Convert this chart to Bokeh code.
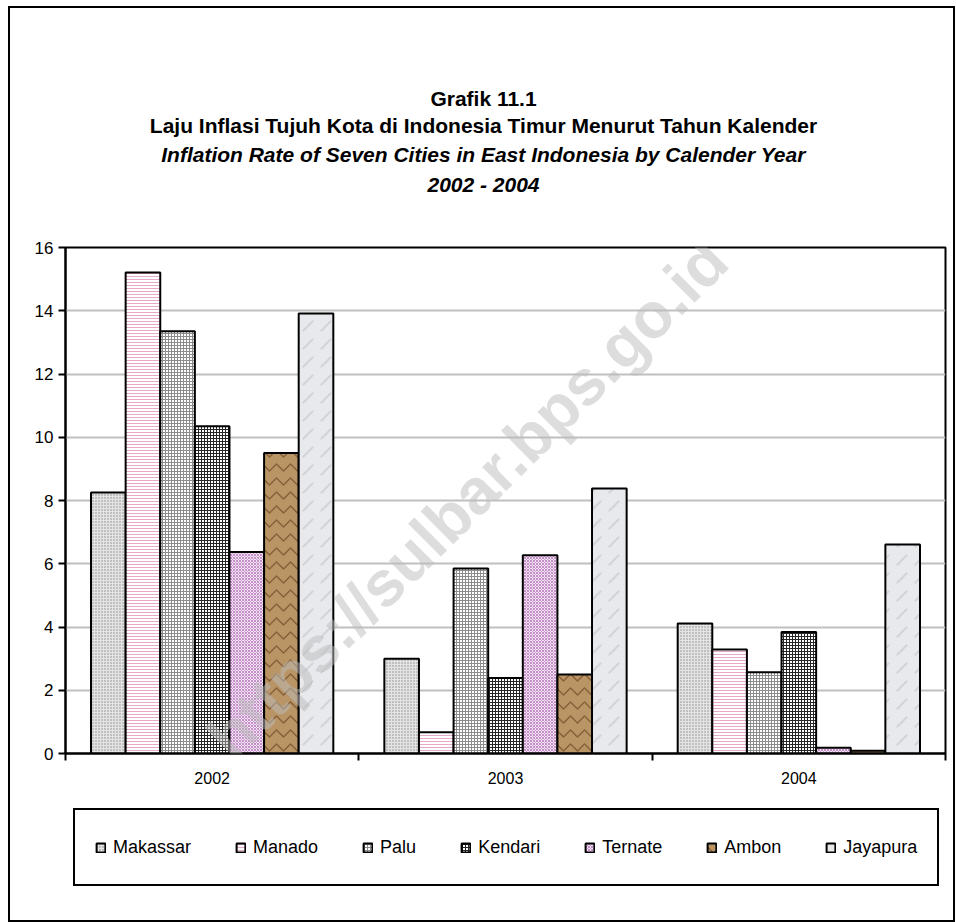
import math
from bokeh.plotting import figure
from bokeh.layouts import column
from bokeh.models import (Range1d, FixedTicker, Legend, LegendItem, Label, ColumnDataSource)
from bokeh.transform import dodge
from bokeh.embed import file_html
from bokeh.resources import INLINE

# ---------------- data ----------------
years = ["2002", "2003", "2004"]
cities = ["Makassar", "Manado", "Palu", "Kendari", "Ternate", "Ambon", "Jayapura"]
makassar = [8.25, 3.00, 4.11]
manado = [15.21, 0.67, 3.29]
palu = [13.35, 5.85, 2.57]
kendari = [10.35, 2.39, 3.84]
ternate = [6.37, 6.27, 0.18]
ambon = [9.50, 2.50, 0.09]
jayapura = [13.91, 8.38, 6.61]
y_ticks = [0, 2, 4, 6, 8, 10, 12, 14, 16]

title_lines = ["Grafik 11.1",
               "Laju Inflasi Tujuh Kota di Indonesia Timur Menurut Tahun Kalender",
               "Inflation Rate of Seven Cities in East Indonesia by Calender Year",
               "2002 - 2004"]
watermark = "https://sulbar.bps.go.id"

series = [makassar, manado, palu, kendari, ternate, ambon, jayapura]

# ---------------- styles ----------------
FONT = "Liberation Sans"
styles_ = [
    dict(fill_color="#e4e4e4", hatch_pattern="dot", hatch_color="#8a8a8a", hatch_scale=3, hatch_weight=1),
    dict(fill_color="#ffffff", hatch_pattern="horizontal_line", hatch_color="#e6a9c9", hatch_scale=3, hatch_weight=1),
    dict(fill_color="#ffffff", hatch_pattern="cross", hatch_color="#8c8c8c", hatch_scale=3, hatch_weight=1),
    dict(fill_color="#ffffff", hatch_pattern="cross", hatch_color="#262626", hatch_scale=3, hatch_weight=1),
    dict(fill_color="#f3e4f3", hatch_pattern="diagonal_cross", hatch_color="#c48fc8", hatch_scale=3, hatch_weight=1),
    dict(fill_color="#b99464", hatch_pattern="horizontal_wave", hatch_color="#86603a", hatch_scale=14, hatch_weight=1.5),
    dict(fill_color="#e7e9ec", hatch_pattern="right_diagonal_dash", hatch_color="#d2d4d8", hatch_scale=18, hatch_weight=2),
]

pos = [k + 0.5 for k in range(len(years))]
data = {"pos": pos}
for c, s in zip(cities, series):
    data[c] = s
source = ColumnDataSource(data)

W = 943
TH, MH, LH = 200, 590, 122
left, top = 55, 39
frame_w, frame_h = 880, 506
bw = 0.118


def blank_fig(h, xr, yr):
    f = figure(x_range=xr, y_range=yr, width=W, height=h,
               output_backend="svg", toolbar_location=None, x_axis_type=None, y_axis_type=None,
               min_border=0, min_border_left=0, min_border_right=0, min_border_top=0,
               min_border_bottom=0, background_fill_color="white", border_fill_color="white",
               frame_align=False)
    f.outline_line_color = None
    f.grid.visible = False
    return f


# ---------------- title figure ----------------
tp = blank_fig(TH, Range1d(0, W), Range1d(TH, 0))
title_y = [90, 117, 146, 176]
title_style = ["bold", "bold", "bold italic", "bold italic"]
for t, yy, st in zip(title_lines, title_y, title_style):
    tp.add_layout(Label(x=473, y=yy, text=t, text_align="center",
                        text_baseline="middle", text_font=FONT, text_font_size="21px",
                        text_font_style=st, text_color="black"))

# ---------------- main figure ----------------
p = figure(x_range=Range1d(0, len(years)), y_range=Range1d(0, 16),
           width=W, height=MH, output_backend="svg", toolbar_location=None,
           min_border_left=left, min_border_right=W - left - frame_w,
           min_border_top=top, min_border_bottom=MH - top - frame_h,
           background_fill_color="white", border_fill_color="white", frame_align=False)
p.outline_line_color = "black"
p.outline_line_width = 2

renderers = []
for i, c in enumerate(cities):
    r = p.vbar(x=dodge("pos", (i - 3) * bw), top=c, width=bw,
               source=source, line_color="black", line_width=2, **styles_[i])
    renderers.append(r)

xax = p.xaxis[0]
xax.ticker = FixedTicker(ticks=pos, minor_ticks=list(range(len(years) + 1)))
xax.major_label_overrides = {k: y for k, y in zip(pos, years)}
xax.major_tick_line_color = None
xax.major_tick_out = 7
xax.major_tick_in = 0
xax.minor_tick_line_color = "black"
xax.minor_tick_line_width = 2
xax.minor_tick_out = 7
xax.minor_tick_in = 0
xax.axis_line_color = "black"
xax.axis_line_width = 2
xax.major_label_standoff = 11
xax.major_label_text_font = FONT
xax.major_label_text_font_size = "16px"
xax.major_label_text_color = "black"

yax = p.yaxis[0]
yax.ticker = FixedTicker(ticks=y_ticks)
yax.minor_tick_line_color = None
yax.major_tick_line_color = "black"
yax.major_tick_line_width = 2
yax.major_tick_out = 7
yax.major_tick_in = 0
yax.axis_line_color = "black"
yax.axis_line_width = 2
yax.major_label_standoff = 5
yax.major_label_text_font = FONT
yax.major_label_text_font_size = "17px"
yax.major_label_text_color = "black"

p.xgrid.visible = False
p.ygrid.grid_line_color = "#c0c0c0"
p.ygrid.grid_line_width = 2

p.add_layout(Label(x=1.37, y=8.05, text=watermark, angle=math.pi / 4,
                   text_align="center", text_baseline="middle", text_font=FONT,
                   text_font_size="64px", text_font_style="bold",
                   text_color="#bcbcbc", text_alpha=0.5))

# ---------------- legend figure ----------------
lp = blank_fig(LH, Range1d(0, len(years)), Range1d(0, 16))
leg_renderers = []
for i, c in enumerate(cities):
    r = lp.vbar(x=dodge("pos", (i - 3) * bw), top=c, width=bw, source=source,
                line_color="black", line_width=2, visible=False, **styles_[i])
    leg_renderers.append(r)

legend = Legend(items=[LegendItem(label=c, renderers=[r]) for c, r in zip(cities, leg_renderers)],
                orientation="horizontal", location=(63, 34), margin=0,
                border_line_color="black", border_line_width=2, border_line_alpha=1,
                glyph_width=11, glyph_height=11, label_standoff=7, spacing=44,
                padding=20, label_height=34, inactive_fill_alpha=0,
                label_text_font=FONT, label_text_font_size="18px", label_text_color="black",
                background_fill_color="white", background_fill_alpha=1)
lp.add_layout(legend, "center")

layout = column(tp, p, lp, spacing=0,
                styles={"border": "2px solid black", "margin": "6px 0 0 8px",
                        "background": "white"})

open("out.html", "w").write(file_html(layout, INLINE))
